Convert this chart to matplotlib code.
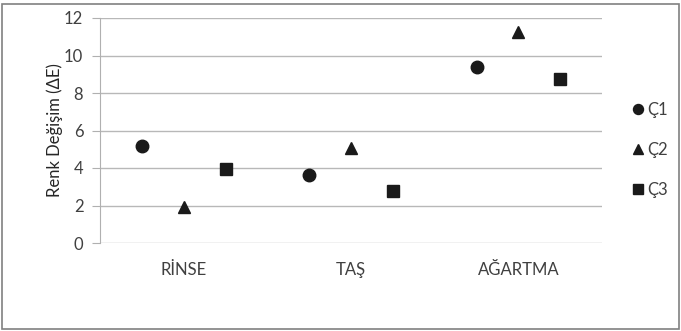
import matplotlib.pyplot as plt
import numpy as np
from matplotlib.patches import Rectangle

plt.rcParams['font.family'] = ['Lato', 'DejaVu Sans']

categories = ["RİNSE", "TAŞ", "AĞARTMA"]
series = ["Ç1", "Ç2", "Ç3"]
c1 = [5.17, 3.63, 9.38]
c2 = [1.9, 5.05, 11.25]
c3 = [3.95, 2.8, 8.75]
yticks = [0, 2, 4, 6, 8, 10, 12]

fig = plt.figure(figsize=(6.81, 3.31), dpi=100)
ax = fig.add_axes([100 / 681, 1 - 243 / 331, 502 / 681, 225 / 331])

x = np.arange(len(categories))
markers = ['o', '^', 's']
sizes = [9, 9, 8.5]
for i, (name, vals) in enumerate(zip(series, [c1, c2, c3])):
    ax.plot(x + (i - 1) * 0.25, vals, linestyle='none', marker=markers[i],
            markersize=sizes[i], color='#1a1a1a', label=name, zorder=3)

ax.set_xlim(-0.5, 2.5)
ax.set_ylim(0, 12)
ax.set_yticks(yticks)
ax.set_xticks(x)
ax.set_xticklabels(categories, fontsize=12, color='#404040')
ax.tick_params(axis='x', length=0, pad=14)
ax.tick_params(axis='y', length=6, color='#b0b0b0', labelsize=12,
               labelcolor='#404040', pad=6)
ax.yaxis.grid(True, color='#b8b8b8', linewidth=1)
ax.set_axisbelow(True)
for s in ['top', 'right', 'bottom']:
    ax.spines[s].set_visible(False)
ax.spines['left'].set_color('#b0b0b0')
ax.set_ylabel("Renk Değişim (ΔE)", fontsize=12, color='#262626', labelpad=1)

fig.legend(loc='upper left', bbox_to_anchor=(619 / 681, 1 - 87 / 331),
           frameon=False, fontsize=12, handlelength=0.5, handletextpad=0.3,
           labelspacing=1.45, labelcolor='#404040', markerscale=0.8)

fig.patches.append(Rectangle((2 / 681, 2 / 331), 677 / 681, 325 / 331,
                             transform=fig.transFigure, fill=False,
                             edgecolor='#808080', linewidth=1.2))

fig.savefig('out.png', dpi=100)
